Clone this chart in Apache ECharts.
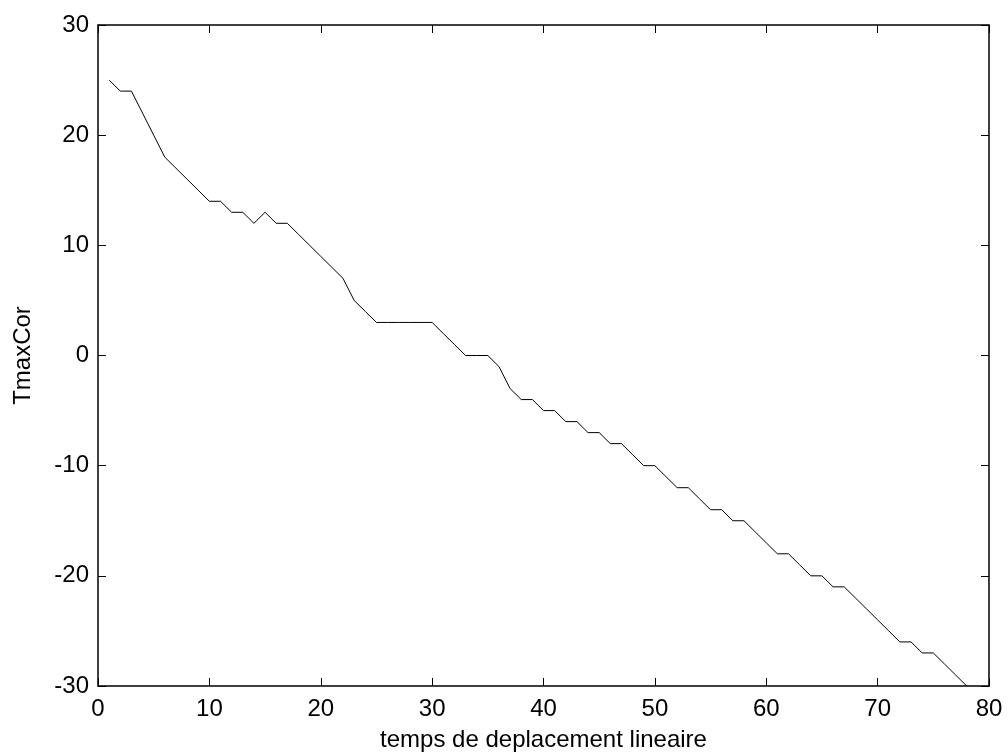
<!DOCTYPE html>
<html>
<head>
<meta charset="utf-8">
<script src="https://cdn.jsdelivr.net/npm/echarts@6/dist/echarts.min.js"></script>
<style>html,body{margin:0;padding:0;background:#fff;}#c{width:1008px;height:753px;}</style>
</head>
<body>
<div id="c"></div>
<script>
const xValues = [1,2,3,4,5,6,7,8,9,10,11,12,13,14,15,16,17,18,19,20,21,22,23,24,25,26,27,28,29,30,31,32,33,34,35,36,37,38,39,40,41,42,43,44,45,46,47,48,49,50,51,52,53,54,55,56,57,58,59,60,61,62,63,64,65,66,67,68,69,70,71,72,73,74,75,76,77,78];
const tmaxCor = [25,24,24,22,20,18,17,16,15,14,14,13,13,12,13,12,12,11,10,9,8,7,5,4,3,3,3,3,3,3,2,1,0,0,0,-1,-3,-4,-4,-5,-5,-6,-6,-7,-7,-8,-8,-9,-10,-10,-11,-12,-12,-13,-14,-14,-15,-15,-16,-17,-18,-18,-19,-20,-20,-21,-21,-22,-23,-24,-25,-26,-26,-27,-27,-28,-29,-30];
const xLabel = 'temps de deplacement lineaire';
const yLabel = 'TmaxCor';

const font = 'Liberation Sans, Arial, sans-serif';
const tickFont = 24;
const nameFont = 24;

const chart = echarts.init(document.getElementById('c'), null, {renderer: 'canvas'});
const axisCommon = {
  type: 'value',
  axisLine: {show: true, onZero: false, lineStyle: {color: '#000', width: 1.5}},
  axisTick: {show: true, inside: true, length: 8, lineStyle: {color: '#000', width: 1}},
  splitLine: {show: false},
};
chart.setOption({
  animation: false,
  backgroundColor: '#fff',
  grid: {left: 98, right: 19, top: 25, bottom: 67, containLabel: false, outerBoundsMode: 'none'},
  xAxis: [
    Object.assign({}, axisCommon, {
      position: 'bottom', min: 0, max: 80, interval: 10,
      axisLabel: {color: '#000', fontSize: tickFont, fontFamily: font, margin: 11},
      name: xLabel, nameLocation: 'middle', nameGap: 42,
      nameTextStyle: {color: '#000', fontSize: nameFont, fontFamily: font}
    }),
    Object.assign({}, axisCommon, {
      position: 'top', min: 0, max: 80, interval: 10,
      axisLabel: {show: false}
    })
  ],
  yAxis: [
    Object.assign({}, axisCommon, {
      position: 'left', min: -30, max: 30, interval: 10,
      axisLabel: {color: '#000', fontSize: tickFont, fontFamily: font, margin: 9},
      name: yLabel, nameLocation: 'middle', nameGap: 63,
      nameTextStyle: {color: '#000', fontSize: nameFont, fontFamily: font}
    }),
    Object.assign({}, axisCommon, {
      position: 'right', min: -30, max: 30, interval: 10,
      axisLabel: {show: false}
    })
  ],
  series: [{
    type: 'line',
    xAxisIndex: 0, yAxisIndex: 0,
    data: xValues.map((x, i) => [x, tmaxCor[i]]),
    symbol: 'none',
    lineStyle: {color: '#000', width: 1},
    clip: true
  }]
});
</script>
</body>
</html>
